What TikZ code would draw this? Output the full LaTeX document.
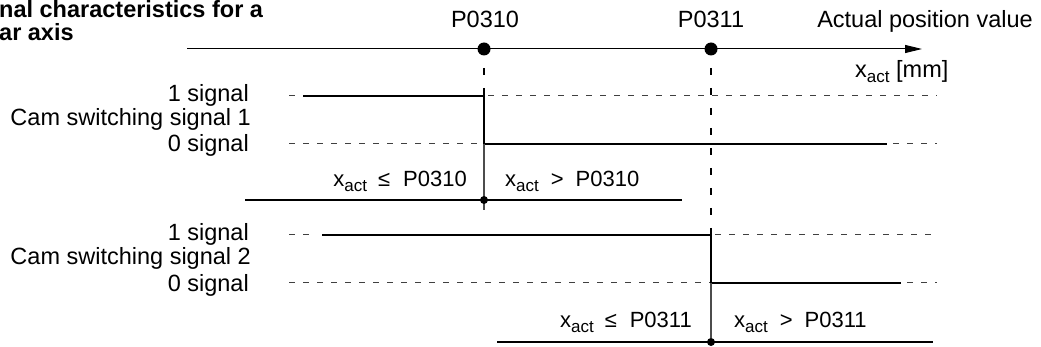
\documentclass[tikz,border=0pt]{standalone}
\usepackage{fontspec}
\setmainfont{Liberation Sans}
\usetikzlibrary{arrows.meta}
\newcommand{\xact}{x\raisebox{-5pt}{\fontsize{17}{18}\selectfont act}}

\begin{document}
\begin{tikzpicture}[x=1pt,y=-1pt,>={Triangle[length=17pt,width=8pt]},
  txt/.style={inner sep=0pt,font=\fontsize{23.5}{26}\selectfont},
  rng/.style={inner sep=0pt,font=\fontsize{22}{24}\selectfont},
  ttl/.style={inner sep=0pt,font=\fontsize{23.5}{26}\selectfont\bfseries,anchor=base west},
  sig/.style={line width=2pt},
  lvl/.style={black!75,line width=1pt,dash pattern=on 6pt off 8pt},
  vdash/.style={line width=2pt,dash pattern=on 7pt off 13pt},
  thinv/.style={black!70,line width=1.3pt},
  bound/.style={line width=1.1pt},
  bigdot/.style={circle,fill,inner sep=0pt,minimum size=13pt},
  smalldot/.style={circle,fill,inner sep=0pt,minimum size=8pt}]
  \useasboundingbox (0,0) rectangle (1041,347);

  % title (cut off at the left)
  \node[ttl] (title1) at (-1,17.5) {nal characteristics for a};
  \node[ttl] (title2) at (-1,41) {ar axis};

  % position axis
  \coordinate (ax0) at (187,49);
  \coordinate (ax1) at (922,49);
  \draw[->,line width=1pt] (ax0) -- (ax1);
  \node[bigdot] (p310) at (484,49) {};
  \node[bigdot] (p311) at (711,49) {};
  \node[txt,anchor=base] (p310lbl) at (485,28) {P0310};
  \node[txt,anchor=base] (p311lbl) at (711,28) {P0311};
  \node[txt,anchor=base east] (axlbl) at (1033,28) {Actual position value};
  \node[txt,anchor=base west] (unit) at (855,78) {\xact\ [mm]};

  % cam switching signal 1
  \node[txt,anchor=base east] (s1one) at (249,102) {1 signal};
  \node[txt,anchor=base east] (s1name) at (251,126) {Cam switching signal 1};
  \node[txt,anchor=base east] (s1zero) at (249,152) {0 signal};
  \coordinate (s1hiL) at (289,96);
  \coordinate (s1hiM) at (297,96);
  \coordinate (s1hiA) at (303,96);
  \coordinate (s1up) at (484,96);
  \coordinate (s1hiR) at (937,96);
  \coordinate (s1loL) at (289,144);
  \coordinate (s1dn) at (484,144);
  \coordinate (s1loB) at (887,144);
  \coordinate (s1loR) at (937,144);
  \draw[lvl] (s1hiL) -- (s1hiM);
  \draw[lvl] (s1up) ++(4,0) -- (s1hiR);
  \draw[lvl] (s1loL) -- (s1dn);
  \draw[lvl] (s1loB) ++(6,0) -- (s1loR);
  \draw[sig] (s1hiA) -- (s1up) -- (s1dn) -- (s1loB);
  \coordinate (v1top) at (484,68);
  \draw[vdash] (v1top) -- (s1up);
  \coordinate (v1bot) at (484,210);
  \draw[thinv] (s1dn) -- (v1bot);

  % range of signal 1
  \coordinate (sec1L) at (245,200);
  \coordinate (sec1R) at (682,200);
  \draw[bound] (sec1L) -- (sec1R);
  \node[smalldot] (d310) at (484,200) {};
  \node[rng,anchor=base east] (r1lo) at (467,187) {\xact\hspace{11pt}≤\hspace{13pt}P0310};
  \node[rng,anchor=base west] (r1hi) at (505,187) {\xact\hspace{12pt}>\hspace{12pt}P0310};

  % cam switching signal 2
  \node[txt,anchor=base east] (s2one) at (249,241) {1 signal};
  \node[txt,anchor=base east] (s2name) at (251,265) {Cam switching signal 2};
  \node[txt,anchor=base east] (s2zero) at (249,291) {0 signal};
  \coordinate (s2hiL) at (289,235);
  \coordinate (s2hiM) at (312,235);
  \coordinate (s2hiA) at (322,235);
  \coordinate (s2up) at (711,235);
  \coordinate (s2hiR) at (937,235);
  \coordinate (s2loL) at (289,283);
  \coordinate (s2dn) at (711,283);
  \coordinate (s2loB) at (901,283);
  \coordinate (s2loR) at (937,283);
  \draw[lvl] (s2hiL) -- (s2hiM);
  \draw[lvl] (s2up) ++(4,0) -- (s2hiR);
  \draw[lvl] (s2loL) -- (s2dn);
  \draw[lvl] (s2loB) ++(6,0) -- (s2loR);
  \draw[sig] (s2hiA) -- (s2up) -- (s2dn) -- (s2loB);
  \coordinate (v2top) at (711,68);
  \draw[vdash] (v2top) -- (s2up);

  % range of signal 2
  \coordinate (sec2L) at (497,342);
  \coordinate (sec2R) at (933,342);
  \draw[bound] (sec2L) -- (sec2R);
  \node[smalldot] (d311) at (711,342) {};
  \draw[thinv] (s2dn) -- (d311);
  \node[rng,anchor=base east] (r2lo) at (692,327) {\xact\hspace{11pt}≤\hspace{13pt}P0311};
  \node[rng,anchor=base west] (r2hi) at (734,327) {\xact\hspace{12pt}>\hspace{12pt}P0311};
\end{tikzpicture}
\end{document}
